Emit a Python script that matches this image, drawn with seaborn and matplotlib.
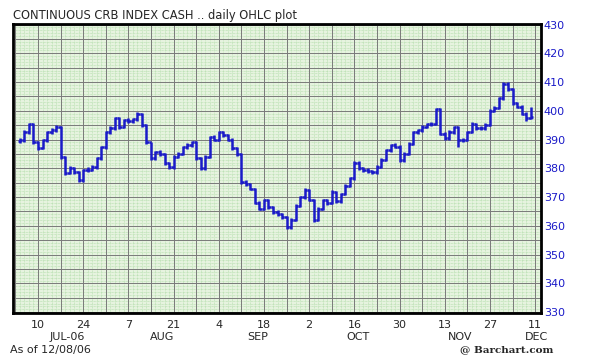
import numpy as np
import pandas as pd
import matplotlib
matplotlib.use("Agg")
import matplotlib.pyplot as plt
import seaborn as sns

# daily OHLC, first bar 2006-07-04, last bar 2006-12-08 (weekdays)
start_date = "2006-07-04"
open_px = [389.5, 389.7, 392.5, 395.3, 389.0, 387.0, 389.7, 392.5, 393.2, 394.3,
           383.8, 378.3, 380.0, 378.6, 375.8, 379.3, 379.5, 380.3, 383.5, 387.3,
           392.5, 393.9, 397.4, 394.3, 396.7, 396.5, 397.0, 399.0, 395.0, 389.0,
           383.5, 385.6, 385.0, 381.7, 380.3, 384.0, 385.0, 387.3, 388.0, 389.0,
           383.5, 380.0, 384.0, 390.8, 390.0, 392.5, 391.5, 390.0, 387.0, 385.0,
           375.2, 374.5, 372.9, 368.0, 366.0, 368.9, 366.5, 364.7, 364.0, 363.0,
           359.5, 362.0, 367.0, 369.9, 372.4, 369.0, 362.0, 366.0, 368.9, 368.0,
           371.7, 368.5, 371.0, 374.0, 376.5, 382.0, 380.0, 379.5, 379.0, 378.6,
           380.5, 383.0, 386.3, 388.0, 387.5, 382.8, 385.0, 388.5, 392.5, 393.2,
           394.5, 395.3, 395.5, 400.5, 392.0, 390.5, 392.6, 394.3, 389.7, 390.0,
           392.6, 395.5, 394.0, 393.9, 395.0, 400.0, 401.0, 404.3, 409.5, 407.5,
           402.6, 401.5, 399.0, 397.5]
high_px = [390.6, 393.2, 395.8, 395.6, 389.5, 390.3, 393.0, 393.9, 395.0, 394.6,
           384.2, 380.8, 380.5, 379.0, 379.9, 380.3, 381.0, 384.0, 387.8, 393.0,
           394.6, 398.0, 397.9, 397.2, 397.5, 397.6, 399.6, 399.3, 395.4, 389.3,
           386.2, 386.3, 385.5, 382.2, 384.5, 385.7, 387.8, 388.7, 389.6, 389.4,
           383.9, 384.6, 391.3, 391.5, 393.1, 393.0, 392.0, 390.5, 387.4, 385.4,
           375.9, 375.0, 373.3, 368.5, 369.5, 369.3, 367.0, 365.4, 364.6, 363.4,
           362.6, 367.5, 370.5, 373.0, 372.8, 369.4, 366.6, 369.4, 369.5, 372.3,
           372.1, 371.6, 374.6, 377.0, 382.6, 382.5, 380.6, 380.1, 379.6, 381.1,
           383.6, 386.9, 388.6, 388.7, 388.0, 385.6, 389.0, 393.0, 393.8, 395.1,
           395.9, 396.2, 401.0, 400.9, 392.5, 393.2, 394.9, 394.6, 390.6, 393.1,
           396.0, 395.9, 394.6, 395.6, 400.5, 401.6, 404.8, 410.0, 409.9, 408.0,
           403.2, 402.0, 399.5, 401.2]
low_px = [388.9, 389.2, 392.0, 388.4, 386.5, 386.6, 389.2, 392.0, 392.7, 383.1,
          377.8, 377.9, 378.0, 375.2, 375.4, 378.7, 379.0, 379.9, 383.0, 386.9,
          392.0, 393.5, 393.8, 393.9, 395.8, 395.9, 396.5, 394.4, 388.5, 382.9,
          383.0, 384.4, 381.2, 379.8, 379.9, 383.5, 384.6, 386.8, 387.5, 383.0,
          379.3, 379.6, 383.6, 389.5, 389.6, 391.0, 389.4, 386.5, 384.4, 374.7,
          373.9, 372.3, 367.5, 365.4, 365.6, 366.0, 364.1, 363.5, 362.4, 358.8,
          359.0, 361.6, 366.6, 369.4, 368.5, 361.2, 361.6, 365.6, 367.4, 367.6,
          368.0, 368.0, 370.6, 373.6, 376.1, 379.5, 378.9, 378.5, 378.0, 378.2,
          380.0, 382.6, 385.8, 387.0, 382.2, 382.3, 384.6, 388.0, 392.0, 392.7,
          394.0, 394.8, 395.0, 391.5, 389.9, 390.0, 392.1, 387.4, 389.1, 389.6,
          392.2, 393.5, 393.3, 393.4, 394.6, 399.5, 400.6, 403.9, 407.0, 402.1,
          401.0, 398.4, 396.6, 397.0]
close_px = [389.7, 392.5, 395.3, 389.0, 387.0, 389.7, 392.5, 393.2, 394.3, 383.8,
            378.3, 380.0, 378.6, 375.8, 379.3, 379.5, 380.3, 383.5, 387.3, 392.5,
            393.9, 397.4, 394.3, 396.7, 396.5, 397.0, 399.0, 395.0, 389.0, 383.5,
            385.6, 385.0, 381.7, 380.3, 384.0, 385.0, 387.3, 388.0, 389.0, 383.5,
            380.0, 384.0, 390.8, 390.0, 392.5, 391.5, 390.0, 387.0, 385.0, 375.2,
            374.5, 372.9, 368.0, 366.0, 368.9, 366.5, 364.7, 364.0, 363.0, 359.5,
            362.0, 367.0, 369.9, 372.4, 369.0, 362.0, 366.0, 368.9, 368.0, 371.7,
            368.5, 371.0, 374.0, 376.5, 382.0, 380.0, 379.5, 379.0, 378.6, 380.5,
            383.0, 386.3, 388.0, 387.5, 382.8, 385.0, 388.5, 392.5, 393.2, 394.5,
            395.3, 395.5, 400.5, 392.0, 390.5, 392.6, 394.3, 389.7, 390.0, 392.6,
            395.5, 394.0, 393.9, 395.0, 400.0, 401.0, 404.3, 409.5, 407.5, 402.6,
            401.5, 399.0, 397.5, 398.0]

y_ticks = [330, 340, 350, 360, 370, 380, 390, 400, 410, 420, 430]
month_labels = ["JUL-06", "AUG", "SEP", "OCT", "NOV", "DEC"]

BLUE = "#1a1ac8"

sns.set_style("white")
plt.rcParams["font.family"] = ["DejaVu Sans"]

dates = pd.bdate_range(start_date, periods=len(close_px) + 1)
df = pd.DataFrame({"open": open_px, "high": high_px, "low": low_px, "close": close_px},
                  index=dates[:-1])
xs = np.arange(len(df))

fig = plt.figure(figsize=(5.89, 3.61), dpi=100)
ax = fig.add_axes([13 / 589, 48 / 361, 528 / 589, 289 / 361])
ax.set_facecolor("#e6f3df")

# fine green texture
for v in np.arange(330, 431, 1):
    ax.axhline(v, color="#b0dca8", lw=0.5, ls=(0, (1, 1)), zorder=0)
for d in np.arange(-2, 117, 1):
    ax.axvline(d, color="#b0dca8", lw=0.5, ls=(0, (1, 1)), zorder=0)

# OHLC bars
ax.vlines(xs, df["low"], df["high"], color=BLUE, lw=1.8, zorder=3)
ax.hlines(df["open"], xs - 0.5, xs, color=BLUE, lw=1.8, zorder=3)
ax.hlines(df["close"], xs, xs + 0.5, color=BLUE, lw=1.8, zorder=3)

ax.set_xlim(-1.53, 115.3)
ax.set_ylim(329.7, 430.2)

# biweekly monday ticks
mondays = [i for i, d in enumerate(dates) if d.weekday() == 0][0::2]
ax.set_xticks(mondays)
ax.set_xticklabels([str(dates[i].day) for i in mondays], fontsize=8)
ax.set_xticks([m - 5 for m in mondays], minor=True)
ax.set_yticks(y_ticks)
ax.set_yticks(np.arange(335, 430, 10), minor=True)
ax.yaxis.tick_right()
ax.set_yticklabels([str(v) for v in y_ticks], fontsize=8, color=BLUE)
ax.tick_params(axis="both", which="both", length=0)
ax.tick_params(axis="x", pad=5)
ax.tick_params(axis="y", pad=2)
ax.grid(True, which="both", color="#7a7a7a", lw=0.7, zorder=1)
ax.set_axisbelow(True)

month_pos = [10.4, 31.5, 52.7, 74.8, 97.3, 114.3]
for lab, p in zip(month_labels, month_pos):
    ax.text(p, -0.083, lab, transform=ax.get_xaxis_transform(), ha="center", va="center", fontsize=8)

for s in ax.spines.values():
    s.set_color("black")
    s.set_linewidth(2)

fig.text(13 / 589, 1 - 16 / 361, "CONTINUOUS CRB INDEX CASH .. daily OHLC plot", fontsize=8.3, va="center")
fig.text(10 / 589, 1 - 350 / 361, "As of 12/08/06", fontsize=8, va="center")
fig.text(553 / 589, 1 - 350 / 361, "@ Barchart.com", fontsize=7.5, va="center", ha="right",
         family="DejaVu Serif", weight="bold")

fig.savefig("out.png", dpi=100)
